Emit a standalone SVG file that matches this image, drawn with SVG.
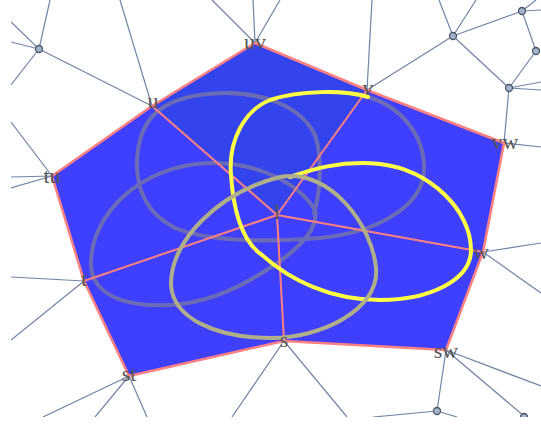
<svg xmlns="http://www.w3.org/2000/svg" width="541" height="426" viewBox="0 0 541 426">
<style>
.e{stroke:#6f84a8;stroke-width:1.2;fill:none}
.n{fill:#a3b3c9;stroke:#4d5566;stroke-width:1.3}
.face{fill:#3f3ffe;stroke:none}
.pk{stroke:#ff8080;fill:none;stroke-linejoin:round}
.cg{fill:none;stroke:#6c6cb6;stroke-width:4;stroke-linecap:round}
.ck{fill:none;stroke:#b1af89;stroke-width:4}
.cy{fill:none;stroke:#ffff44;stroke-width:4;stroke-linecap:round}
.lb{font-family:"Liberation Serif","Times New Roman",serif;font-size:22px;fill:#555;text-anchor:middle}
</style>
<defs><clipPath id="clip"><rect x="11" y="0" width="530" height="417"/></clipPath></defs>
<rect width="541" height="426" fill="#fff"/>
<g clip-path="url(#clip)">
<g id="connectors">
<line class="e" x1="39" y1="49" x2="50" y2="0"/>
<line class="e" x1="39" y1="49" x2="11" y2="22"/>
<line class="e" x1="39" y1="49" x2="11" y2="42"/>
<line class="e" x1="39" y1="49" x2="11" y2="85"/>
<line class="e" x1="39" y1="49" x2="152" y2="106"/>
<line class="e" x1="152" y1="106" x2="120" y2="0"/>
<line class="e" x1="11" y1="122" x2="52" y2="176"/>
<line class="e" x1="52" y1="176" x2="11" y2="177"/>
<line class="e" x1="52" y1="176" x2="11" y2="188"/>
<line class="e" x1="255" y1="43" x2="212" y2="0"/>
<line class="e" x1="255" y1="43" x2="253" y2="0"/>
<line class="e" x1="255" y1="43" x2="280" y2="0"/>
<line class="e" x1="367" y1="90" x2="372" y2="0"/>
<line class="e" x1="367" y1="90" x2="453" y2="36"/>
<line class="e" x1="453" y1="36" x2="439" y2="0"/>
<line class="e" x1="453" y1="36" x2="476" y2="0"/>
<line class="e" x1="453" y1="36" x2="522" y2="11"/>
<line class="e" x1="453" y1="36" x2="509" y2="88"/>
<line class="e" x1="522" y1="11" x2="536" y2="0"/>
<line class="e" x1="522" y1="11" x2="541" y2="10"/>
<line class="e" x1="522" y1="11" x2="536" y2="51"/>
<line class="e" x1="536" y1="51" x2="509" y2="88"/>
<line class="e" x1="509" y1="88" x2="541" y2="82"/>
<line class="e" x1="509" y1="88" x2="541" y2="90"/>
<line class="e" x1="509" y1="88" x2="504" y2="143"/>
<line class="e" x1="504" y1="143" x2="541" y2="147"/>
<line class="e" x1="483" y1="252" x2="541" y2="243"/>
<line class="e" x1="483" y1="252" x2="541" y2="293"/>
<line class="e" x1="446" y1="350" x2="541" y2="386"/>
<line class="e" x1="446" y1="350" x2="524" y2="416"/>
<line class="e" x1="446" y1="350" x2="437" y2="411"/>
<line class="e" x1="437" y1="411" x2="373" y2="417"/>
<line class="e" x1="437" y1="411" x2="457" y2="417"/>
<line class="e" x1="284" y1="341" x2="232" y2="417"/>
<line class="e" x1="284" y1="341" x2="347" y2="417"/>
<line class="e" x1="129" y1="376" x2="43" y2="417"/>
<line class="e" x1="129" y1="376" x2="95" y2="417"/>
<line class="e" x1="129" y1="376" x2="147" y2="417"/>
<line class="e" x1="84" y1="281" x2="11" y2="277"/>
<line class="e" x1="84" y1="281" x2="11" y2="340"/>
</g>
<g id="n1"><circle class="n" cx="39" cy="49" r="3.5"/></g>
<g id="n2"><circle class="n" cx="453" cy="36" r="3.5"/></g>
<g id="n3"><circle class="n" cx="522" cy="11" r="3.5"/></g>
<g id="n4"><circle class="n" cx="509" cy="88" r="3.5"/></g>
<g id="n5"><circle class="n" cx="536" cy="51" r="3.5"/></g>
<g id="n6"><circle class="n" cx="437" cy="411" r="3.5"/></g>
<g id="n7"><circle class="n" cx="524" cy="417" r="3.5"/></g>
</g>
<g id="faces">
<polygon class="face" points="52,176 152,106 277,215 84,281"/>
<polygon class="face" style="fill:#3444ec" points="152,106 255,43 367,90 277,215"/>
<polygon class="face" points="367,90 504,143 483,252 277,215"/>
<polygon class="face" points="483,252 446,350 284,341 277,215"/>
<polygon class="face" points="284,341 129,376 84,281 277,215"/>
</g>
<g id="curves-gray">
<path class="cg" d="M137,165 C137,115 165,94 225,93 C245,93 260,96 270,100 C300,90 345,90 368,97 C400,106 425,135 424,170 C423,205 380,232 320,238 C270,242 210,242 175,228 C150,215 137,195 137,165 Z"/>
<path class="cg" d="M225,93 C262,93 300,105 315,135 C322,155 321,190 314,213"/>
<path class="cg" d="M91,265 C90,215 140,165 210,163 C260,162 300,185 315,210 C320,235 285,260 250,280 C215,300 180,307 150,305 C115,303 92,290 91,265 Z"/>
</g>
<g id="spokes">
<line class="pk" stroke-width="2" x1="277" y1="215" x2="152" y2="106"/>
<line class="pk" stroke-width="2" x1="277" y1="215" x2="367" y2="90"/>
<line class="pk" stroke-width="2" x1="277" y1="215" x2="483" y2="252"/>
<line class="pk" stroke-width="2" x1="277" y1="215" x2="284" y2="341"/>
<line class="pk" stroke-width="2" x1="277" y1="215" x2="84" y2="281"/>
<polygon class="pk" stroke-width="2.5" points="52,176 152,106 255,43 367,90 504,143 483,252 446,350 284,341 129,376 84,281"/>
</g>
<g id="curve-yellow"><path class="cy" d="M368,97 C345,90 300,90 270,100 C245,110 228,140 231,175 C233,205 240,240 262,255 C290,280 330,300 380,300 C430,300 471,280 471,250 C471,210 430,170 380,164 C340,160 310,170 290,177"/></g>
<g id="curve-khaki"><path class="ck" d="M171,285 C170,240 220,192 280,177 C330,168 372,225 376,268 C380,310 320,338 272,338 C215,338 173,318 171,285 Z"/></g>
<g id="labels">
<g id="uv"><text class="lb" x="255" y="49">uv</text></g>
<g id="vw"><text class="lb" x="505" y="149">vw</text></g>
<g id="sw"><text class="lb" x="446" y="358">sw</text></g>
<g id="st"><text class="lb" x="129" y="381">st</text></g>
<g id="tu"><text class="lb" x="52" y="183">tu</text></g>
<g id="u"><text class="lb" x="153" y="108">u</text></g>
<g id="v"><text class="lb" x="368" y="95">v</text></g>
<g id="w"><text class="lb" x="481" y="259">w</text></g>
<g id="s"><text class="lb" x="284" y="347">s</text></g>
<g id="t"><text class="lb" x="84" y="286">t</text></g>
<g id="x"><text class="lb" x="277" y="219">l</text></g>
</g>
</svg>
